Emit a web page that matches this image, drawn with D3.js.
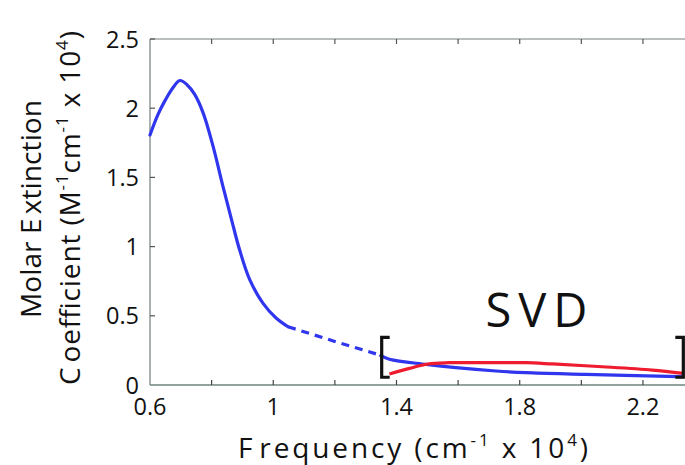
<!DOCTYPE html>
<html>
<head>
<meta charset="utf-8">
<script src="https://cdn.jsdelivr.net/npm/d3@7"></script>
<style>
  html, body { margin: 0; padding: 0; background: #fff; overflow: hidden; }
  svg { display: block; }
  text { font-family: "Open Sans", "DejaVu Sans", sans-serif; fill: #111; }
</style>
</head>
<body>
<svg id="chart" width="685" height="465"></svg>
<script>
// ---------- data ----------
const xTickValues = [0.6, 0.8, 1.0, 1.2, 1.4, 1.6, 1.8, 2.0, 2.2];
const xTickLabels = ["0.6", "", "1", "", "1.4", "", "1.8", "", "2.2"];
const yTickValues = [0, 0.5, 1, 1.5, 2, 2.5];
const yTickLabels = ["0", "0.5", "1", "1.5", "2", "2.5"];

// blue spectrum, measured part (solid)
const blueFreqA = [0.6, 0.625, 0.65, 0.675, 0.697, 0.72, 0.745, 0.773, 0.805, 0.837, 0.865, 0.891, 0.924, 0.967, 1.01, 1.048];
const blueValA  = [1.806, 1.95, 2.06, 2.15, 2.2, 2.17, 2.1, 1.963, 1.722, 1.433, 1.192, 0.975, 0.759, 0.59, 0.482, 0.421];
// blue, extrapolated gap (dashed)
const blueFreqB = [1.048, 1.195, 1.345];
const blueValB  = [0.421, 0.318, 0.217];
// blue, SVD region (solid)
const blueFreqC = [1.345, 1.377, 1.496, 1.593, 1.723, 1.82, 2.014, 2.317, 2.33];
const blueValC  = [0.217, 0.186, 0.149, 0.125, 0.101, 0.089, 0.077, 0.060, 0.059];
// red component, SVD region
const redFreq = [1.377, 1.442, 1.502, 1.572, 1.745, 1.82, 1.906, 2.068, 2.23, 2.33];
const redVal  = [0.079, 0.12, 0.152, 0.161, 0.161, 0.161, 0.152, 0.132, 0.108, 0.084];

// SVD bracket range
const svdFreq = [1.352, 2.331];
const svdVal  = [0.056, 0.344];

// ---------- layout ----------
const svg = d3.select("#chart");
const x = d3.scaleLinear().domain([0.6, 2.4]).range([150, 150 + 1.8 * 308.1]);
const y = d3.scaleLinear().domain([0, 2.5]).range([385, 39]);

const axisCol = "#6f8680";
const tickLen = 5;

// frame lines
svg.append("line").attr("x1", x(0.6)).attr("x2", 685).attr("y1", y(2.5)).attr("y2", y(2.5))
  .attr("stroke", "#a3aaa8").attr("stroke-width", 1.3);
svg.append("line").attr("x1", x(0.6)).attr("x2", x(0.6)).attr("y1", y(0)).attr("y2", y(2.5))
  .attr("stroke", "#8d9896").attr("stroke-width", 1.5);
svg.append("line").attr("x1", x(0.6)).attr("x2", 685).attr("y1", y(0)).attr("y2", y(0))
  .attr("stroke", axisCol).attr("stroke-width", 1.5);

// x ticks (bottom and top, inward)
xTickValues.forEach((v, i) => {
  if (i === 0) return;
  svg.append("line").attr("x1", x(v)).attr("x2", x(v)).attr("y1", y(0)).attr("y2", y(0) - tickLen)
    .attr("stroke", "#444").attr("stroke-width", 1.2);
  svg.append("line").attr("x1", x(v)).attr("x2", x(v)).attr("y1", y(2.5)).attr("y2", y(2.5) + tickLen)
    .attr("stroke", "#555").attr("stroke-width", 1.2);
});
xTickValues.forEach((v, i) => {
  if (!xTickLabels[i]) return;
  svg.append("text").attr("x", x(v)).attr("y", 415).attr("text-anchor", "middle")
    .attr("font-size", 23.5).text(xTickLabels[i]);
});

// y ticks (left, inward)
yTickValues.forEach((v, i) => {
  if (i !== 0) {
    svg.append("line").attr("x1", x(0.6)).attr("x2", x(0.6) + tickLen).attr("y1", y(v)).attr("y2", y(v))
      .attr("stroke", "#555").attr("stroke-width", 1.2);
  }
  svg.append("text").attr("x", 139).attr("y", y(v) + 8.5).attr("text-anchor", "end")
    .attr("font-size", 23.5).text(yTickLabels[i]);
});

// ---------- curves ----------
const line = d3.line().x(d => x(d[0])).y(d => y(d[1])).curve(d3.curveCatmullRom.alpha(0.5));
const zip = (a, b) => a.map((v, i) => [v, b[i]]);

svg.append("path").datum(zip(blueFreqA, blueValA)).attr("d", line)
  .attr("fill", "none").attr("stroke", "#3036ee").attr("stroke-width", 3.2).attr("stroke-linecap", "round");
svg.append("path").datum(zip(blueFreqB, blueValB)).attr("d", d3.line().x(d => x(d[0])).y(d => y(d[1])))
  .attr("fill", "none").attr("stroke", "#3036ee").attr("stroke-width", 3.2).attr("stroke-dasharray", "8,6");
svg.append("path").datum(zip(blueFreqC, blueValC)).attr("d", line)
  .attr("fill", "none").attr("stroke", "#3036ee").attr("stroke-width", 3.2);
svg.append("path").datum(zip(redFreq, redVal)).attr("d", line)
  .attr("fill", "none").attr("stroke", "#ee1c2e").attr("stroke-width", 3.2);

// ---------- SVD brackets ----------
const arm = 8;
const bx0 = x(svdFreq[0]), bx1 = x(svdFreq[1]);
const by0 = y(svdVal[0]), by1 = y(svdVal[1]);
svg.append("path")
  .attr("d", `M${bx0 + arm},${by1} H${bx0} V${by0} H${bx0 + arm}`)
  .attr("fill", "none").attr("stroke", "#111").attr("stroke-width", 3.2);
svg.append("path")
  .attr("d", `M${bx1 - arm},${by1} H${bx1} V${by0} H${bx1 - arm}`)
  .attr("fill", "none").attr("stroke", "#111").attr("stroke-width", 3.2);

svg.append("text").attr("x", 540).attr("y", 327).attr("text-anchor", "middle")
  .attr("font-size", 47).attr("letter-spacing", 7).text("SVD");

// ---------- axis labels ----------
const xl = svg.append("text").attr("x", 238).attr("y", 458)
  .attr("font-size", 28).attr("textLength", 350).attr("lengthAdjust", "spacing");
xl.append("tspan").text("F");
xl.append("tspan").attr("dx", 4).text("requency (cm");
xl.append("tspan").attr("font-size", 17).attr("dy", -12).text("-1");
xl.append("tspan").attr("dy", 12).text(" x 10");
xl.append("tspan").attr("font-size", 17).attr("dy", -12).text("4");
xl.append("tspan").attr("dy", 12).text(")");

const yl1 = svg.append("text").attr("transform", "translate(41,318) rotate(-90)")
  .attr("font-size", 28).attr("textLength", 218).attr("lengthAdjust", "spacing");
yl1.append("tspan").text("Molar E");
yl1.append("tspan").attr("dx", 4).text("xtinction");

const yl2 = svg.append("text").attr("transform", "translate(80,385) rotate(-90)")
  .attr("font-size", 28).attr("textLength", 354).attr("lengthAdjust", "spacing");
yl2.append("tspan").text("C");
yl2.append("tspan").attr("dx", 4).text("oefficient (M");
yl2.append("tspan").attr("font-size", 17).attr("dy", -12).text("-1");
yl2.append("tspan").attr("dy", 12).text("cm");
yl2.append("tspan").attr("font-size", 17).attr("dy", -12).text("-1");
yl2.append("tspan").attr("dy", 12).text(" x 10");
yl2.append("tspan").attr("font-size", 17).attr("dy", -12).text("4");
yl2.append("tspan").attr("dy", 12).text(")");
</script>
</body>
</html>
